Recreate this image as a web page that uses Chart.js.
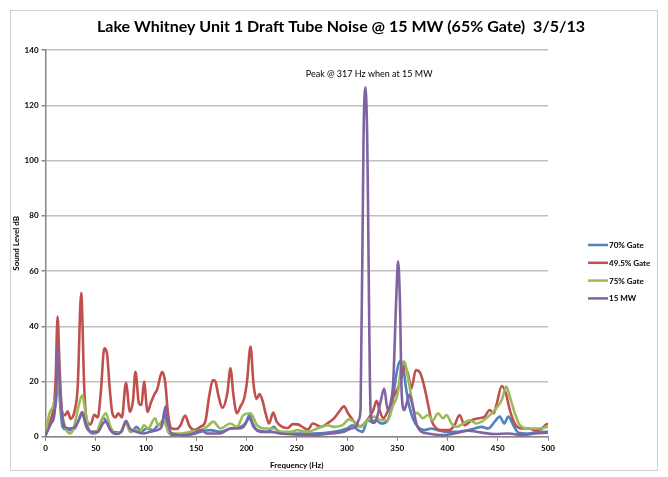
<!DOCTYPE html>
<html><head><meta charset="utf-8">
<script src="https://cdn.jsdelivr.net/npm/chart.js@4/dist/chart.umd.min.js"></script>
<style>html,body{margin:0;padding:0;background:#fff}</style>
</head><body>
<canvas id="c" width="668" height="477" style="display:block;width:668px;height:477px"></canvas>
<script>
// ---- text ----
const chartTitle = 'Lake Whitney Unit 1 Draft Tube Noise @ 15 MW (65% Gate)  3/5/13';
const xAxisTitle = 'Frequency (Hz)';
const yAxisTitle = 'Sound Level dB';
const seriesNames = ['70% Gate', '49.5% Gate', '75% Gate', '15 MW'];
const seriesColors = ['#4F81BD', '#C0504D', '#9BBB59', '#8064A2'];
const annotationText = 'Peak @ 317 Hz when at 15 MW';
const annotationFreq = 322;
const annotationLevel = 131.7;

// ---- tick settings ----
const xTickMin = 0, xTickMax = 500, xTickStep = 50;
const yTickMin = 0, yTickMax = 140, yTickStep = 20;

// ---- 70% Gate ----
const gate70Freq = [0,4,8,10.5,12.5,14.5,17,21,24,29,33,36.5,40.5,44,47,51,54,57,60.5,64,67,74,80,85.5,90.5,95.5,100.5,107,112,116,119,122,127,134,140,147,154,164,174,184,194,199,203,206,209,215,221,227,234,247,267,287,300,305.5,310.5,315.5,320.5,324,329,334,340.5,345.5,349,352.5,355.5,359,362,365.5,370.5,377,384,390.5,400.5,410.5,420.5,427,434,440.5,447,452,456.5,460.5,465.5,470.5,480.5,490.5,500];
const gate70Level = [0.5,5,9,13,24,12,3.6,2.6,2.4,3,6,8.5,3.6,1.8,1.2,1.5,3,7,5.5,3,1.8,1.5,4.8,1.8,3.6,1.8,3,2.4,4.2,5,8.5,2,0.6,0.8,0.6,1,1.8,2.4,1.8,3,3.6,5,7.9,5,3,2,1.8,3.6,1.2,1.2,1.2,1.8,3,4.2,2.5,1.8,6,5.5,6,4.8,6,13.3,22.4,27.3,26,17,11,6.7,3.6,2.4,3,2.4,1.8,1.8,2.4,3,3.6,3,5.5,7.3,4.8,7.3,4.2,1.5,1.2,1.8,1.8];

// ---- 49.5% Gate ----
const gate495Freq = [0,4,8,10,12,14,16.5,19.5,22,25,29,32,35.5,38.5,41,45,48.5,52,55,58.5,61,64,66.5,69.5,72.5,76,80,84,87,89.5,93,95.5,98,101.5,105,108.5,111,116,119,122,125.5,130,134,139,143,148,154,159,163,166.5,169,172,176,181,184,187,190.5,194,197.5,200.5,204,207,210,213,216,219,222.5,226.5,230,236,241,246,251,256,261,266,274,281,287,292,297,301,306,311,315.5,321,326,329.5,332.5,336,341,345.5,350,354,357,360.5,364,368.5,373,377,380.5,384,389,394,401,407,412,417,424,431,437,442,446,449,454,458,462,467,474,481,487,494,499,500];
const gate495Level = [0.5,5,10.5,20,43.5,25,9,7.8,9.2,6.5,9.5,18,52,18,6,4.5,8,7,16,32,30.5,17,8.5,7,8.5,7,19.5,9,13,23.5,12,11.5,20,9,12.5,15.5,17,23.5,20,8,3,2.8,4,7.7,4,2.5,3.6,5.5,15,20.5,20,15,10.5,16,24.8,15,8.5,11,13.7,20,32.7,19,13.7,15.5,13,8.5,4.8,8.8,5.5,3.5,3.2,4.6,4.5,3.5,2.6,4.8,3.6,5,6.7,9,11,8.5,6,3.8,4.2,6.5,9.5,13,9.5,6.7,9.7,14,17,21,25.5,23,17.5,24.2,23,18,12,6,3,2.4,2.4,4.2,7.9,4.2,6,6.7,7.3,9.7,8.5,12,18.4,15.8,9.7,4.8,3,3,2.4,3,4.6,4.5];

// ---- 75% Gate ----
const gate75Freq = [0,4,7.5,10.5,12.5,15.5,19,24,28,32,36.5,40,44,50.5,55.5,60,64,69,75.5,80,84,89,94,98,102,109,112,117,120.5,124,134,144,154,160.5,167,174,184,190.5,197,204,210.5,217,227,234,244,250.5,260.5,270.5,280.5,287,295.5,302,307,314,320.5,327,334,340.5,345.5,350.5,354,357,360.5,364,367,370.5,375.5,380.5,385.5,390.5,395.5,399,404,409,415.5,422,429,434,440.5,447,454,458.5,462,467,472,480.5,490.5,500];
const gate75Level = [1.2,8.5,11,15.8,21,11,4.2,1.2,3,9.7,15,8.5,1.8,1.8,6,8.5,4.2,1.2,1.8,5.5,1.8,2.4,1.8,4.2,3,6.7,4.2,6,3.6,1.2,1.2,1.8,2.4,3.6,5.5,3,4.8,3.6,7.9,8.5,4.2,3,3,1.8,1.8,2.4,1.8,3,4.2,3.6,4.2,6.3,5.5,3.6,6,7.3,6,6,11,15.8,25.5,27.3,21.8,14.5,9,8.5,6.7,7.9,6,8.5,6.7,7.9,4.8,3.6,4.8,6,4.8,5.5,7.3,9.7,13.3,18.2,14.5,8.5,4.2,3,3,3.6];

// ---- 15 MW ----
const mw15Freq = [0,5.5,9,11,12.5,14,16,19,24,29,33,36.5,40,45.5,52,57,60,64.5,70.5,75.5,80,84,90.5,97,104,110.5,115.5,119.5,122,125.5,137,147,155.5,160.5,174,184,190.5,197,203,207,214,224,234,250.5,267,284,297,304,309,311.5,313.5,316.5,318.3,320,323.5,326,329,333,337,340.5,344,346,349,350.8,352.6,354.5,357,360,362,365.5,369,374,380.5,394,407,420.5,434,447,460.5,474,487,500];
const mw15Level = [0.6,4.8,8.5,20,32.5,20,9.7,3.6,3,3.6,6,9,4.8,1.8,1.8,4.8,5.5,2.4,1,1.8,5.8,3,1.8,1.2,1.8,2.4,3.6,11,4.8,1.2,0.6,1.2,2.4,1.2,1.2,3,3,3.6,6.7,3.6,1.8,1.8,1.2,0.8,0.6,1.2,1.8,3,3.6,6,10,110,126.5,110,9,5,6,12,17.5,9.7,13.3,20,50,63.5,50,15,9.7,13,15.2,11,4.8,1.8,1.2,0.6,1.2,2.2,1.5,1,1.2,0.6,1.2,1.5];

const seriesFreqs = [gate70Freq, gate495Freq, gate75Freq, mw15Freq];
const seriesLevels = [gate70Level, gate495Level, gate75Level, mw15Level];
const drawOrder = [3, 2, 1, 0]; // purple drawn on top, as in the reference

const datasets = seriesNames.map((name, i) => ({
  label: name,
  data: seriesFreqs[i].map((f, k) => ({ x: f, y: seriesLevels[i][k] })),
  borderColor: seriesColors[i],
  backgroundColor: seriesColors[i],
  borderWidth: 2.6,
  pointRadius: 0,
  fill: false,
  cubicInterpolationMode: 'monotone',
  order: drawOrder[i]
}));

const FONT = 'Lato, "Liberation Sans", sans-serif';

const decor = {
  id: 'decor',
  beforeDraw(chart) {
    const ctx = chart.ctx;
    ctx.save();
    ctx.fillStyle = '#ffffff';
    ctx.fillRect(0, 0, chart.width, chart.height);
    ctx.strokeStyle = '#d0d0d0';
    ctx.lineWidth = 1;
    ctx.strokeRect(10.5, 10.5, 647, 460);
    ctx.restore();
  },
  afterDraw(chart) {
    const ctx = chart.ctx;
    const xs = chart.scales.x, ys = chart.scales.y;
    ctx.save();
    ctx.fillStyle = '#000';
    ctx.textAlign = 'center';
    ctx.textBaseline = 'middle';
    ctx.font = 'bold 16px ' + FONT;
    ctx.fillText(chartTitle, 341, 27);
    ctx.font = '9px ' + FONT;
    ctx.fillText(annotationText, xs.getPixelForValue(annotationFreq), ys.getPixelForValue(annotationLevel) + 1);
    // legend
    ctx.textAlign = 'left';
    ctx.font = 'bold 8px ' + FONT;
    chart.data.datasets.forEach((ds, i) => {
      const y = 245 + i * 17.8;
      ctx.strokeStyle = ds.borderColor;
      ctx.lineWidth = 2.5;
      ctx.beginPath();
      ctx.moveTo(588, y);
      ctx.lineTo(608, y);
      ctx.stroke();
      ctx.fillStyle = '#000';
      ctx.fillText(ds.label, 609, y + 0.5);
    });
    ctx.restore();
  }
};

new Chart(document.getElementById('c'), {
  type: 'line',
  data: { datasets },
  plugins: [decor],
  options: {
    responsive: false,
    devicePixelRatio: 1,
    animation: false,
    layout: { padding: { left: 12, right: 120, top: 50, bottom: 7 } },
    plugins: { legend: { display: false }, title: { display: false }, tooltip: { enabled: false } },
    scales: {
      x: {
        type: 'linear', min: xTickMin, max: xTickMax,
        ticks: { stepSize: xTickStep, color: '#000', font: { family: FONT, size: 8, weight: 'bold' }, padding: 3, maxRotation: 0 },
        grid: { drawOnChartArea: false, drawTicks: true, tickLength: 4, tickColor: '#868686' },
        border: { display: true, color: '#868686', width: 1.5 },
        title: { display: true, text: xAxisTitle, color: '#000', font: { family: FONT, size: 8, weight: 'bold' }, padding: { top: 4, bottom: 0 } }
      },
      y: {
        min: yTickMin, max: yTickMax,
        ticks: { stepSize: yTickStep, color: '#000', font: { family: FONT, size: 8, weight: 'bold' }, padding: 3 },
        grid: { color: '#c0c0c0', lineWidth: 1.5, drawTicks: true, tickLength: 4, tickColor: '#868686' },
        border: { display: true, color: '#868686', width: 1.5 },
        title: { display: true, text: yAxisTitle, color: '#000', font: { family: FONT, size: 8, weight: 'bold' }, padding: { top: 0, bottom: 0 } }
      }
    }
  }
});
</script>
</body></html>
